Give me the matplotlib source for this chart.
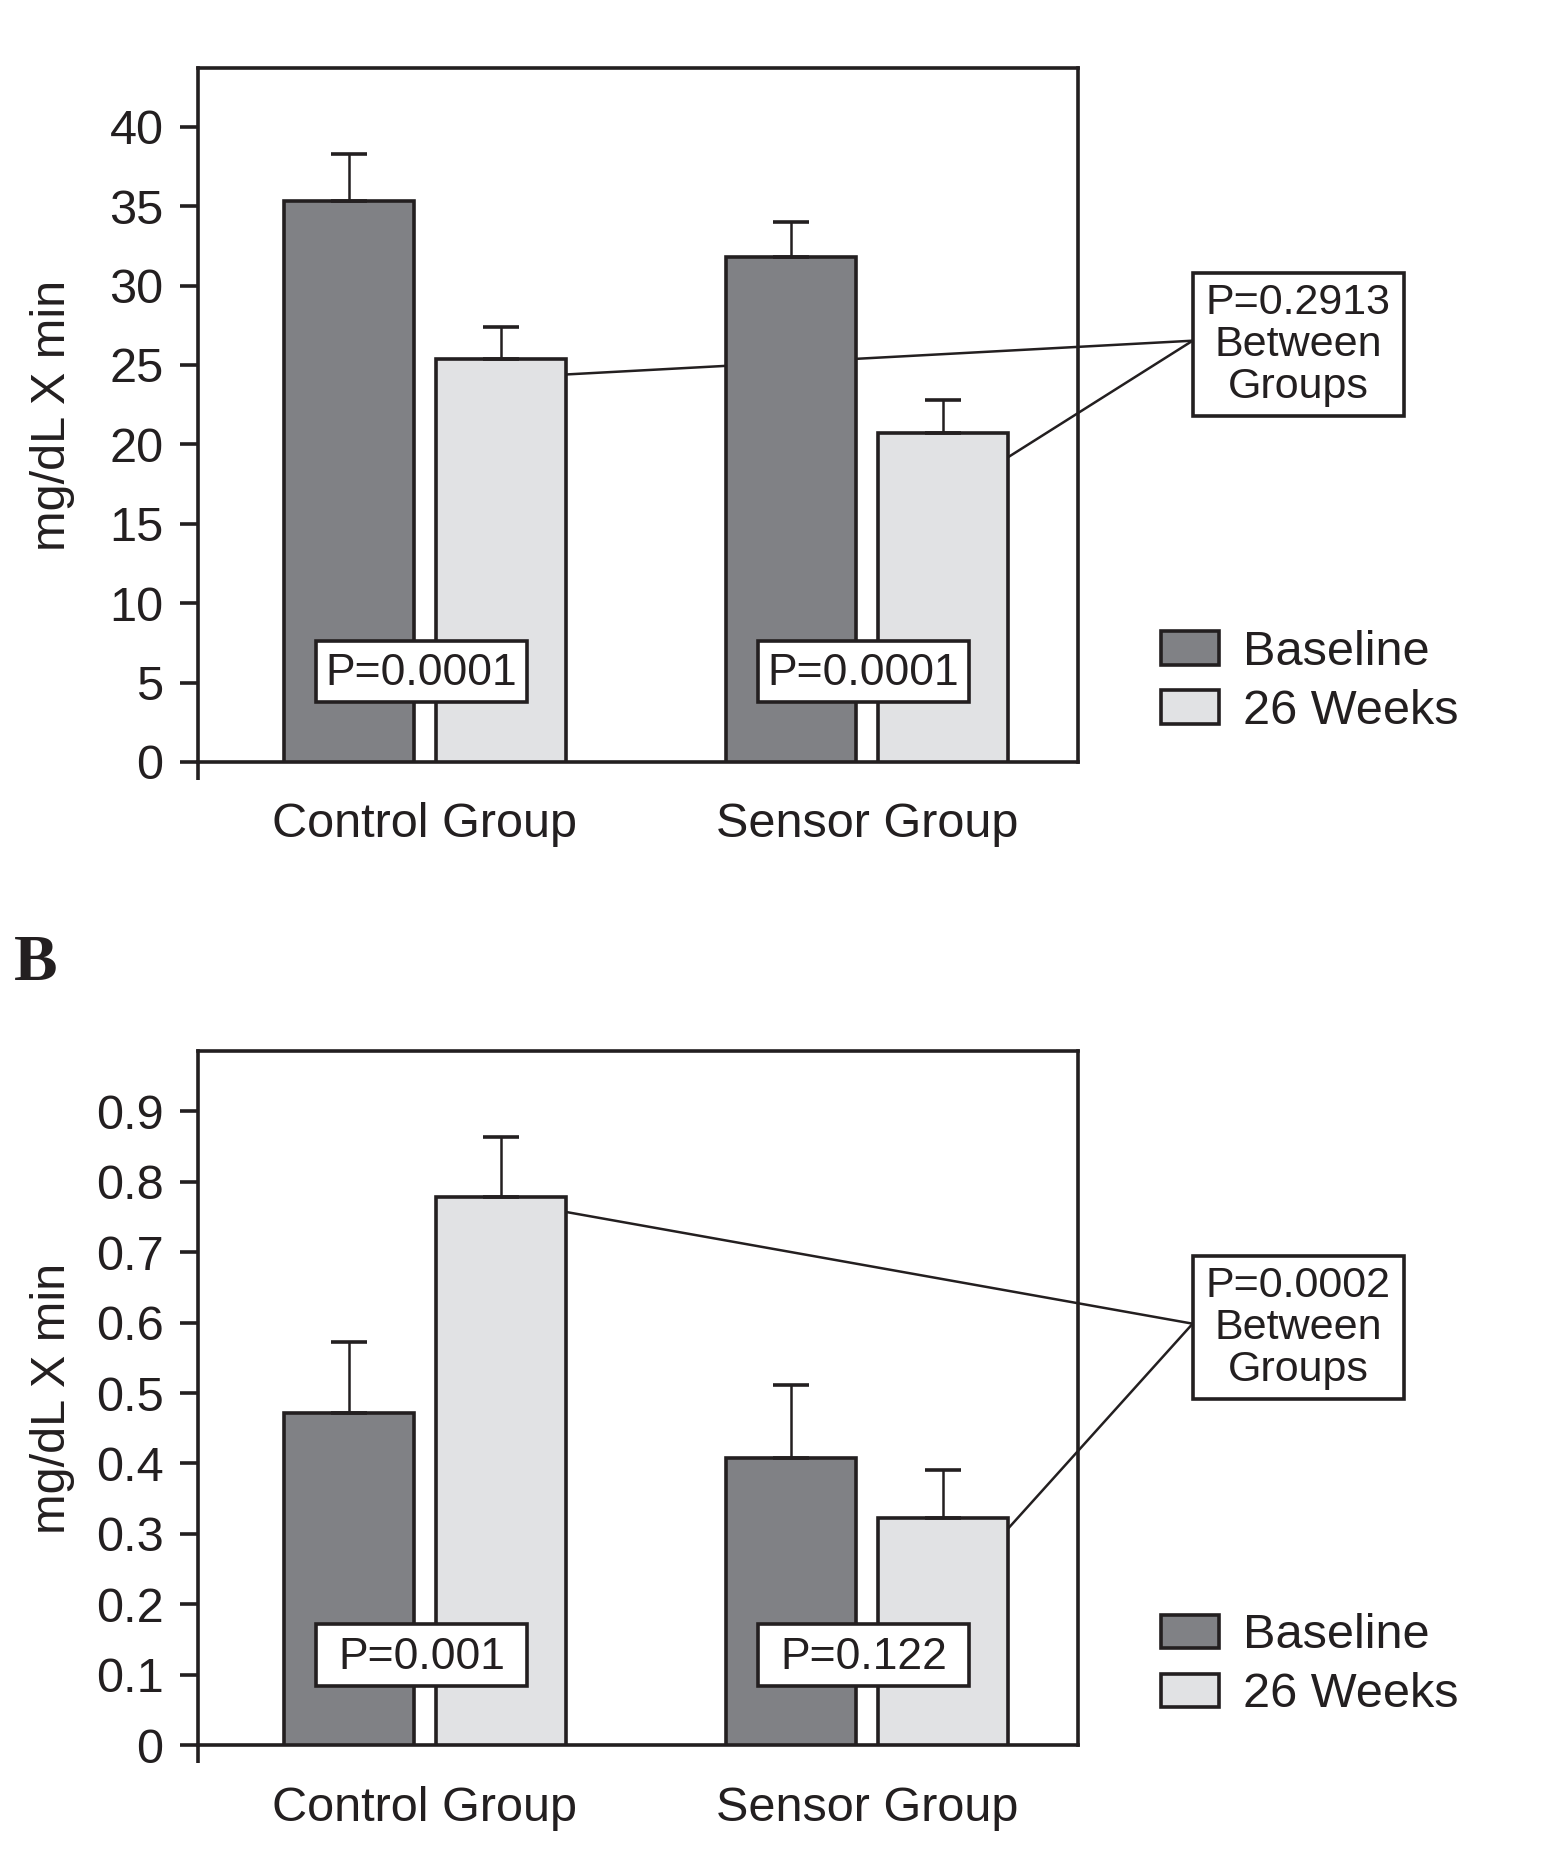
import matplotlib
matplotlib.use('Agg')
import matplotlib.pyplot as plt
import matplotlib.transforms as mtransforms
from matplotlib.patches import Rectangle
import numpy as np

plt.rcParams['font.family'] = ['Liberation Sans', 'DejaVu Sans']
ink = '#231f20'
plt.rcParams['text.color'] = ink
plt.rcParams['axes.labelcolor'] = ink
plt.rcParams['xtick.color'] = ink
plt.rcParams['ytick.color'] = ink

groups = ['Control Group', 'Sensor Group']
series = ['Baseline', '26 Weeks']
colors = ['#808185', '#e1e2e4']

# 패널 A (위)
a_base = [35.3, 31.8]
a_base_err = [3.0, 2.2]
a_week = [25.4, 20.7]
a_week_err = [2.0, 2.1]
a_within = ['P=0.0001', 'P=0.0001']
a_between = 'P=0.2913\nBetween\nGroups'
a_link = [24.4, 19.2]      # 26주 막대 오른쪽 모서리에서 선이 시작하는 높이
a_ticks = [0, 5, 10, 15, 20, 25, 30, 35, 40]
a_ticklabels = ['0', '5', '10', '15', '20', '25', '30', '35', '40']
a_ymax = 43.7

# 패널 B (아래)
b_base = [0.472, 0.408]
b_base_err = [0.101, 0.103]
b_week = [0.779, 0.322]
b_week_err = [0.084, 0.069]
b_within = ['P=0.001', 'P=0.122']
b_between = 'P=0.0002\nBetween\nGroups'
b_link = [0.757, 0.308]
b_ticks = [0, 0.1, 0.2, 0.3, 0.4, 0.5, 0.6, 0.7, 0.8, 0.9]
b_ticklabels = ['0', '0.1', '0.2', '0.3', '0.4', '0.5', '0.6', '0.7', '0.8', '0.9']
b_ymax = 0.986

width = 0.296
offset = 0.172
lw = 2.6


def draw_panel(ax, base, base_err, week, week_err, within, between, link,
               ticks, ticklabels, ymax):
    x = np.arange(len(groups))
    b1 = ax.bar(x - offset, base, width, color=colors[0], edgecolor=ink,
                linewidth=lw, zorder=3, label=series[0])
    b2 = ax.bar(x + offset, week, width, color=colors[1], edgecolor=ink,
                linewidth=lw, zorder=3, label=series[1])
    # 위쪽 오차막대만
    ax.errorbar(x - offset, base, yerr=[np.zeros(len(base)), base_err], fmt='none',
                ecolor=ink, elinewidth=1.8, capsize=13, capthick=2.6, zorder=4)
    ax.errorbar(x + offset, week, yerr=[np.zeros(len(week)), week_err], fmt='none',
                ecolor=ink, elinewidth=1.8, capsize=13, capthick=2.6, zorder=4)

    ax.set_xlim(-0.513, 1.478)
    ax.set_ylim(0, ymax)
    ax.set_yticks(ticks)
    ax.set_yticklabels(ticklabels)
    ax.set_xticks(x)
    ax.set_xticklabels(groups)
    ax.tick_params(axis='y', direction='out', length=13, width=lw, pad=12, labelsize=35)
    ax.tick_params(axis='x', length=0, pad=29, labelsize=35)
    for s in ax.spines.values():
        s.set_linewidth(lw)
        s.set_color(ink)
    ax.plot([0, 0], [0, -0.026], transform=ax.transAxes, color=ink, lw=lw,
            clip_on=False, solid_capstyle='butt')

    ax.set_ylabel('mg/dL X min', fontsize=35)
    ax.yaxis.set_label_coords(-0.14, 0.5)

    # 그룹 내 P값 상자
    trans = mtransforms.blended_transform_factory(ax.transData, ax.transAxes)
    for i, txt in enumerate(within):
        ax.add_patch(Rectangle((x[i] - 0.247, 0.086), 0.478, 0.088, transform=trans,
                               facecolor='white', edgecolor=ink, lw=lw, zorder=5))
        ax.text(x[i] - 0.008, 0.127, txt, transform=trans, ha='center', va='center',
                fontsize=32, zorder=6)

    # 그룹 간 P값 상자와 연결선
    bx0, bx1 = 1.737, 2.215
    ax.add_patch(Rectangle((bx0, 0.499), bx1 - bx0, 0.206, transform=trans,
                           facecolor='white', edgecolor=ink, lw=lw, zorder=5,
                           clip_on=False))
    ax.text((bx0 + bx1) / 2, 0.601, between, transform=trans, ha='center',
            va='center', fontsize=31, linespacing=1.06, zorder=6)
    target = 0.607 * ymax
    for i in range(len(groups)):
        ax.plot([x[i] + offset + width / 2, bx0], [link[i], target], color=ink,
                lw=1.8, zorder=2, clip_on=False)

    ax.legend(handles=[b1, b2], loc='upper left', bbox_to_anchor=(1.094, 0.19),
              frameon=False, fontsize=35, handlelength=1.19, handleheight=0.68,
              handletextpad=0.5, labelspacing=0.29, borderpad=0, borderaxespad=0)


fig = plt.figure(figsize=(15.66, 18.62), dpi=100)
ax1 = fig.add_axes([0.1266, 0.5908, 0.5619, 0.3727])
ax2 = fig.add_axes([0.1266, 0.0627, 0.5619, 0.3730])

draw_panel(ax1, a_base, a_base_err, a_week, a_week_err, a_within, a_between, a_link,
           a_ticks, a_ticklabels, a_ymax)
draw_panel(ax2, b_base, b_base_err, b_week, b_week_err, b_within, b_between, b_link,
           b_ticks, b_ticklabels, b_ymax)

fig.text(0.009, 0.4737, 'B', fontsize=47, fontweight='bold',
         family=['Liberation Serif', 'DejaVu Serif'], va='baseline', ha='left')

fig.savefig('out.png', dpi=100)
